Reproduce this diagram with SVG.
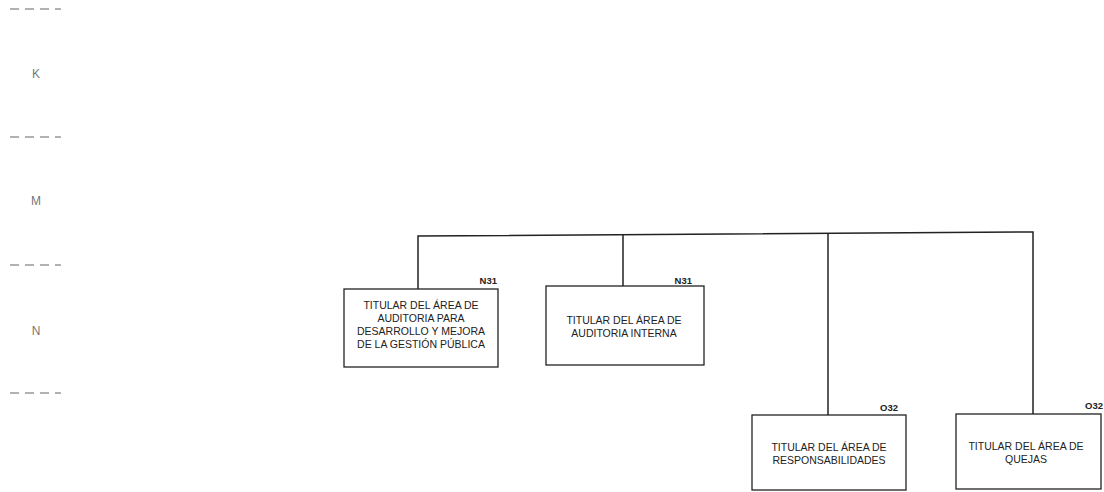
<svg xmlns="http://www.w3.org/2000/svg" width="1104" height="492" viewBox="0 0 1104 492">
<style>
.box{fill:#fff;stroke:#222;stroke-width:1.3}
.conn{fill:none;stroke:#222;stroke-width:1.5}
.t{font-family:"Liberation Sans",Arial,sans-serif;font-size:10.5px;fill:#222;text-anchor:middle}
.code{font-family:"Liberation Sans",Arial,sans-serif;font-size:9.5px;font-weight:bold;fill:#222;text-anchor:end}
.lvl{font-family:"Liberation Sans",Arial,sans-serif;font-size:12px;fill:#777;text-anchor:middle}
.dash{stroke:#666;stroke-width:1.2;stroke-dasharray:9 6}
</style>
<g id="levels">
<line class="dash" x1="10" y1="9" x2="61" y2="9"/>
<text class="lvl" x="36" y="78">K</text>
<line class="dash" x1="10" y1="137" x2="61" y2="137"/>
<text class="lvl" x="36" y="205">M</text>
<line class="dash" x1="10" y1="265" x2="61" y2="265"/>
<text class="lvl" x="36" y="335">N</text>
<line class="dash" x1="10" y1="393" x2="61" y2="393"/>
</g>
<g id="connectors">
<polyline class="conn" points="418,289 418,236 1033,232 1033,414"/>
<line class="conn" x1="623" y1="235" x2="623" y2="286"/>
<line class="conn" x1="828" y1="233" x2="828" y2="415"/>
</g>
<g id="node1">
<rect class="box" x="344" y="289" width="154" height="78"/>
<text class="code" x="497" y="284">N31</text>
<text class="t" x="421" y="309">TITULAR DEL ÁREA DE</text>
<text class="t" x="421" y="322">AUDITORIA PARA</text>
<text class="t" x="421" y="335">DESARROLLO Y MEJORA</text>
<text class="t" x="421" y="348">DE LA GESTIÓN PÚBLICA</text>
</g>
<g id="node2">
<rect class="box" x="546" y="286" width="158" height="79"/>
<text class="code" x="692" y="284">N31</text>
<text class="t" x="624" y="324">TITULAR DEL ÁREA DE</text>
<text class="t" x="624" y="337">AUDITORIA INTERNA</text>
</g>
<g id="node3">
<rect class="box" x="752" y="415" width="154" height="75"/>
<text class="code" x="898" y="411">O32</text>
<text class="t" x="829" y="451">TITULAR DEL ÁREA DE</text>
<text class="t" x="829" y="464">RESPONSABILIDADES</text>
</g>
<g id="node4">
<rect class="box" x="956" y="414" width="145" height="75"/>
<text class="code" x="1103" y="409">O32</text>
<text class="t" x="1026" y="450">TITULAR DEL ÁREA DE</text>
<text class="t" x="1026" y="463">QUEJAS</text>
</g>
</svg>
